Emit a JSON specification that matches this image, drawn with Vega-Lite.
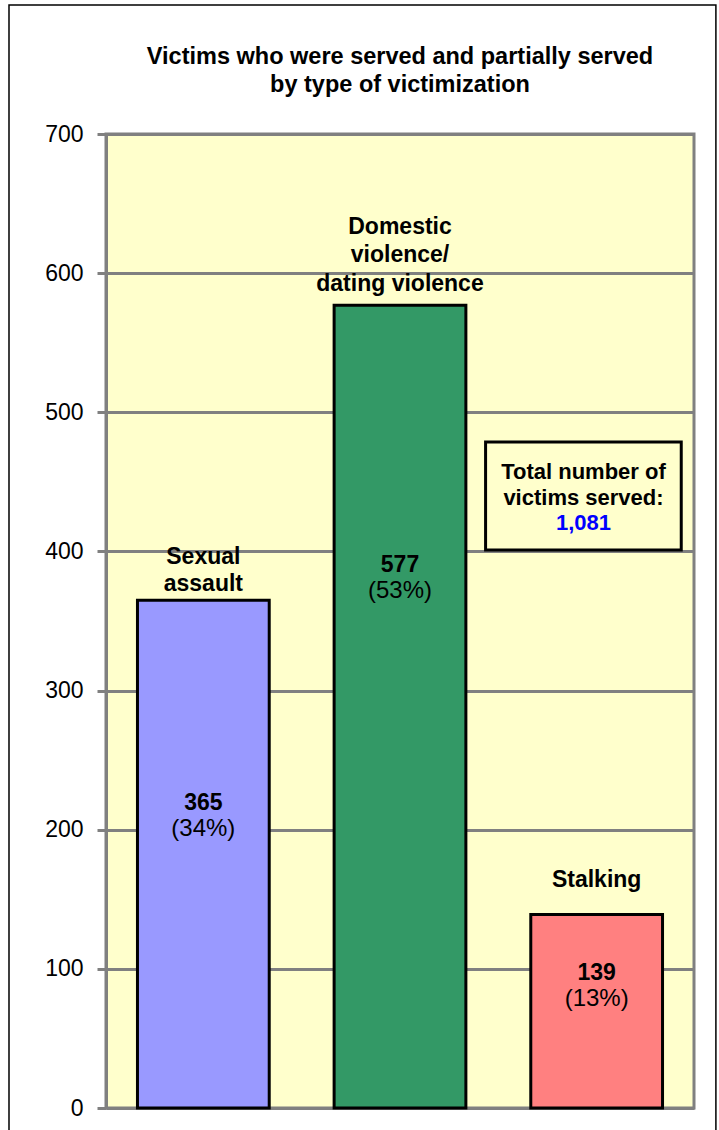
{
  "$schema": "https://vega.github.io/schema/vega-lite/v6.json",
  "autosize": {"type": "none"},
  "padding": {"left": 106, "top": 134, "right": 25, "bottom": 22},
  "width": 588,
  "height": 974,
  "background": "white",
  "title": {
    "text": ["Victims who were served and partially served", "by type of victimization"],
    "font": "Liberation Sans",
    "fontSize": 23.5,
    "fontWeight": "bold",
    "color": "black",
    "anchor": "middle",
    "frame": "group",
    "lineHeight": 28,
    "offset": -92
  },
  "config": {
    "view": {"stroke": "#808080", "strokeWidth": 3, "fill": "#FFFFCC"},
    "font": "Liberation Sans",
    "text": {"font": "Liberation Sans", "fontSize": 23, "color": "black", "baseline": "middle", "align": "center"}
  },
  "datasets": {
    "bars": [
      {"category": "Sexual assault", "lines": ["Sexual", "assault"], "count": 365, "pct": "(34%)"},
      {"category": "Domestic violence/dating violence", "lines": ["Domestic", "violence/", "dating violence"], "count": 577, "pct": "(53%)"},
      {"category": "Stalking", "lines": ["Stalking"], "count": 139, "pct": "(13%)"}
    ],
    "summary": [
      {"caption": ["Total number of", "victims served:"], "total": 1081}
    ]
  },
  "data": {"name": "bars"},
  "encoding": {
    "x": {
      "field": "category",
      "type": "nominal",
      "sort": null,
      "scale": {"domain": ["Sexual assault", "Domestic violence/dating violence", "Stalking"], "paddingInner": 0.33, "paddingOuter": 0.16},
      "axis": null
    }
  },
  "layer": [
    {
      "data": {"name": "summary"},
      "mark": {"type": "rect", "filled": false, "stroke": "black", "strokeWidth": 1.5},
      "encoding": {
        "x": {"datum": "Sexual assault", "bandPosition": -0.975},
        "x2": {"datum": "Stalking", "bandPosition": 1.405},
        "y": {"datum": 792.7, "type": "quantitative"},
        "y2": {"datum": -30}
      }
    },
    {
      "mark": {"type": "bar", "stroke": "black", "strokeWidth": 3},
      "encoding": {
        "y": {
          "field": "count",
          "type": "quantitative",
          "scale": {"domain": [0, 700], "nice": false, "zero": true},
          "axis": {
            "values": [0, 100, 200, 300, 400, 500, 600, 700],
            "title": null,
            "grid": true,
            "gridColor": "#808080",
            "gridWidth": 3,
            "gridOpacity": 1,
            "domain": true,
            "domainColor": "#808080",
            "domainWidth": 3,
            "ticks": true,
            "tickColor": "#808080",
            "tickWidth": 3,
            "tickSize": 9,
            "labelFont": "Liberation Sans",
            "labelFontSize": 23,
            "labelColor": "black",
            "labelPadding": 14
          }
        },
        "color": {
          "field": "category",
          "type": "nominal",
          "scale": {"domain": ["Sexual assault", "Domestic violence/dating violence", "Stalking"], "range": ["#9999FF", "#339966", "#FF8080"]},
          "legend": null
        }
      }
    },
    {
      "data": {"name": "summary"},
      "mark": {"type": "rect", "fill": "#FFFFCC", "stroke": "black", "strokeWidth": 3},
      "encoding": {
        "x": {"datum": "Stalking", "bandPosition": -0.343},
        "x2": {"datum": "Stalking", "bandPosition": 1.142},
        "y": {"datum": 401, "type": "quantitative"},
        "y2": {"datum": 478.6}
      }
    },
    {
      "data": {"name": "summary"},
      "mark": {"type": "text", "fontWeight": "bold", "fontSize": 22, "lineHeight": 26},
      "encoding": {
        "x": {"datum": "Stalking", "bandPosition": 0.4},
        "y": {"datum": 457.1, "type": "quantitative"},
        "text": {"field": "caption"}
      }
    },
    {
      "data": {"name": "summary"},
      "mark": {"type": "text", "fontWeight": "bold", "fontSize": 22, "color": "#0000FF"},
      "encoding": {
        "x": {"datum": "Stalking", "bandPosition": 0.4},
        "y": {"datum": 420.4, "type": "quantitative"},
        "text": {"field": "total", "type": "quantitative", "format": ","}
      }
    },
    {
      "transform": [{"filter": "datum.category === 'Sexual assault'"}],
      "layer": [
        {"mark": {"type": "text", "fontWeight": "bold", "lineHeight": 27}, "encoding": {"y": {"datum": 396.0, "type": "quantitative"}, "text": {"field": "lines"}}},
        {"mark": {"type": "text", "fontWeight": "bold"}, "encoding": {"y": {"datum": 219.2, "type": "quantitative"}, "text": {"field": "count", "type": "quantitative"}}},
        {"mark": {"type": "text", "fontSize": 24}, "encoding": {"y": {"datum": 200.5, "type": "quantitative"}, "text": {"field": "pct"}}}
      ]
    },
    {
      "transform": [{"filter": "datum.category === 'Domestic violence/dating violence'"}],
      "layer": [
        {"mark": {"type": "text", "fontWeight": "bold", "lineHeight": 28.5}, "encoding": {"y": {"datum": 633.2, "type": "quantitative"}, "text": {"field": "lines"}}},
        {"mark": {"type": "text", "fontWeight": "bold"}, "encoding": {"y": {"datum": 389.9, "type": "quantitative"}, "text": {"field": "count", "type": "quantitative"}}},
        {"mark": {"type": "text", "fontSize": 24}, "encoding": {"y": {"datum": 371.6, "type": "quantitative"}, "text": {"field": "pct"}}}
      ]
    },
    {
      "transform": [{"filter": "datum.category === 'Stalking'"}],
      "layer": [
        {"mark": {"type": "text", "fontWeight": "bold"}, "encoding": {"y": {"datum": 163.9, "type": "quantitative"}, "text": {"field": "lines"}}},
        {"mark": {"type": "text", "fontWeight": "bold"}, "encoding": {"y": {"datum": 97.0, "type": "quantitative"}, "text": {"field": "count", "type": "quantitative"}}},
        {"mark": {"type": "text", "fontSize": 24}, "encoding": {"y": {"datum": 78.3, "type": "quantitative"}, "text": {"field": "pct"}}}
      ]
    }
  ]
}
